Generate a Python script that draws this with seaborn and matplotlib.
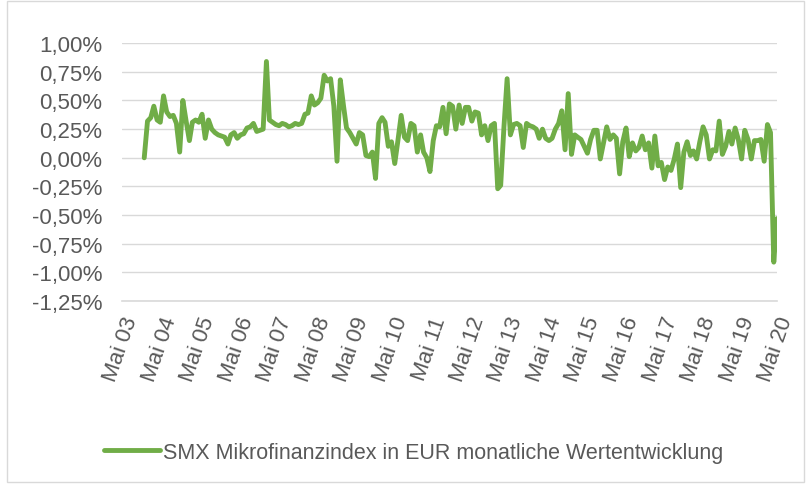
import matplotlib
matplotlib.use('Agg')
import matplotlib.pyplot as plt
import matplotlib.patches as mpatches
from matplotlib.ticker import FuncFormatter
import seaborn as sns
import pandas as pd
import numpy as np

# monatliche Wertentwicklung in %, Dez 2003 .. Mai 2020
werte = [
    0.00, 0.32, 0.35, 0.45, 0.33, 0.31, 0.54, 0.40, 0.36, 0.37, 0.30, 0.05,
    0.50, 0.32, 0.15, 0.31, 0.33, 0.31, 0.38, 0.17, 0.33, 0.25, 0.22, 0.20,
    0.19, 0.18, 0.12, 0.20, 0.22, 0.17, 0.20, 0.21, 0.26, 0.27, 0.30, 0.23,
    0.24, 0.25, 0.84, 0.33, 0.31, 0.29, 0.28, 0.30, 0.29, 0.27, 0.28, 0.30,
    0.29, 0.30, 0.38, 0.39, 0.54, 0.46, 0.48, 0.52, 0.72, 0.67, 0.69, 0.45,
    -0.03, 0.68, 0.45, 0.26, 0.22, 0.17, 0.12, 0.22, 0.20, 0.02, 0.01, 0.05,
    -0.18, 0.30, 0.35, 0.31, 0.10, 0.14, -0.05, 0.15, 0.37, 0.18, 0.15, 0.30,
    0.28, 0.05, 0.20, 0.05, 0.00, -0.12, 0.15, 0.28, 0.27, 0.44, 0.21, 0.47,
    0.45, 0.25, 0.46, 0.30, 0.44, 0.44, 0.32, 0.40, 0.39, 0.20, 0.28, 0.15,
    0.28, 0.30, -0.27, -0.24, 0.27, 0.69, 0.20, 0.29, 0.30, 0.28, 0.09, 0.30,
    0.28, 0.27, 0.25, 0.17, 0.25, 0.17, 0.15, 0.17, 0.25, 0.30, 0.41, 0.07,
    0.56, 0.03, 0.20, 0.18, 0.16, 0.10, 0.04, 0.16, 0.24, 0.24, -0.01, 0.13,
    0.27, 0.16, 0.20, 0.17, -0.14, 0.14, 0.26, 0.01, 0.13, 0.06, 0.09, 0.19,
    0.07, 0.13, -0.09, 0.19, -0.07, -0.04, -0.19, -0.08, -0.11, -0.01, 0.12, -0.26,
    0.05, 0.14, 0.02, 0.06, -0.01, 0.14, 0.27, 0.20, -0.01, 0.07, 0.06, 0.32,
    0.03, 0.10, 0.23, 0.12, 0.26, 0.16, -0.01, 0.24, 0.16, -0.01, 0.15, 0.15,
    0.16, -0.03, 0.29, 0.22, -0.91, -0.53,
]
monate = pd.date_range('2003-12-01', periods=len(werte), freq='MS')

tick_jahre = list(range(2003, 2021))
tick_labels = ['Mai %02d' % (j % 100) for j in tick_jahre]
y_ticks = [1.0, 0.75, 0.5, 0.25, 0.0, -0.25, -0.5, -0.75, -1.0, -1.25]

serie = 'SMX Mikrofinanzindex in EUR monatliche Wertentwicklung'
gruen = '#70AD47'
grau = '#595959'

sns.set_style('white')
plt.rcParams['font.family'] = ['Liberation Sans', 'DejaVu Sans']

df = pd.DataFrame({'Monat': monate, 'Wert': werte})

fig = plt.figure(figsize=(8.11, 4.85), dpi=100)
ax = fig.add_axes([0.150, 0.377, 0.808, 0.532])

sns.lineplot(data=df, x='Monat', y='Wert', color=gruen, linewidth=3.5,
             ax=ax, label=serie, legend=False)

ax.set_ylim(-1.25, 1.0)
ax.set_yticks(y_ticks)
ax.yaxis.set_major_formatter(FuncFormatter(lambda v, p: ('%.2f%%' % v).replace('.', ',')))
ax.yaxis.grid(True, color='#d9d9d9', linewidth=1.0)
ax.set_axisbelow(True)

tick_pos = [pd.Timestamp('%d-05-01' % j) for j in tick_jahre]
ax.set_xlim(tick_pos[0], tick_pos[-1])
ax.set_xticks(tick_pos)
ax.set_xticklabels(tick_labels, rotation=71, ha='right', rotation_mode='anchor')

for s in ['top', 'right', 'left']:
    ax.spines[s].set_visible(False)
ax.spines['bottom'].set_color('#d9d9d9')
ax.spines['bottom'].set_linewidth(1.2)
ax.tick_params(axis='x', colors='#d9d9d9', length=5, width=1.2, labelcolor=grau,
               labelsize=16, pad=4)
ax.tick_params(axis='y', length=0, labelcolor=grau, labelsize=16, pad=14)
ax.set_xlabel('')
ax.set_ylabel('')

handle = plt.Line2D([], [], color=gruen, linewidth=3.5)
fig.legend([handle], [serie], loc='center', bbox_to_anchor=(0.51, 0.065),
           frameon=False, fontsize=15.5, labelcolor=grau, handlelength=2.6,
           handletextpad=0.15)

# Rahmen um das Diagramm
fig.patches.append(mpatches.Rectangle((0.009, 0.004), 0.982, 0.992,
                                      transform=fig.transFigure, fill=False,
                                      edgecolor='#d9d9d9', linewidth=1.0))

fig.savefig('out.png', dpi=100)
